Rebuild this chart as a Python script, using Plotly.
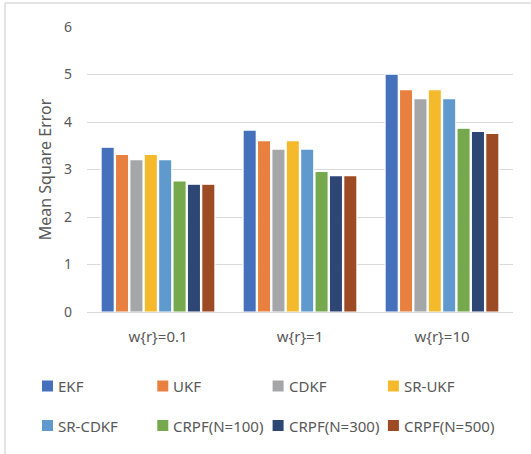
import plotly.graph_objects as go

# Noise settings and filter results (mean square error)
groups = ["w{r}=0.1", "w{r}=1", "w{r}=10"]
series_names = ["EKF", "UKF", "CDKF", "SR-UKF", "SR-CDKF",
                "CRPF(N=100)", "CRPF(N=300)", "CRPF(N=500)"]
ekf = [3.47, 3.83, 5.01]
ukf = [3.32, 3.61, 4.68]
cdkf = [3.21, 3.43, 4.49]
sr_ukf = [3.32, 3.61, 4.68]
sr_cdkf = [3.21, 3.43, 4.49]
crpf_100 = [2.76, 2.96, 3.87]
crpf_300 = [2.69, 2.87, 3.80]
crpf_500 = [2.69, 2.87, 3.76]
y_ticks = [0, 1, 2, 3, 4, 5, 6]

series_values = [ekf, ukf, cdkf, sr_ukf, sr_cdkf, crpf_100, crpf_300, crpf_500]
colors = ["#4570BC", "#E88040", "#A5A6A8", "#F4BA2C",
          "#5F99CE", "#76A84E", "#2E4674", "#9C4B25"]

W, H = 531, 454
L, R, T, B = 87, 18, 27, 142
PW, PH = W - L - R, H - T - B
TEXT = "#595959"
GRID = "#D9D9D9"
FONT = "Noto Sans"


def px(x):
    return (x - L) / PW


def py(y):
    return (H - B - y) / PH


fig = go.Figure()
for name, vals, col in zip(series_names, series_values, colors):
    fig.add_trace(go.Bar(
        x=groups, y=vals, name=name,
        marker=dict(color=col, line=dict(color="white", width=1.2)),
        showlegend=False,
    ))

shapes = []
annotations = []

# outer frame (top and left edges)
shapes.append(dict(type="line", xref="paper", yref="paper",
                   x0=px(5), x1=px(W + 2), y0=py(3), y1=py(3),
                   line=dict(color="#DADADA", width=1.5)))
shapes.append(dict(type="line", xref="paper", yref="paper",
                   x0=px(5), x1=px(5), y0=py(3), y1=py(H + 2),
                   line=dict(color="#DADADA", width=1.5)))

# legend: two rows of four entries
for i, (name, col) in enumerate(zip(series_names, colors)):
    row, c = divmod(i, 4)
    x0 = 42 + c * 115.3
    yc = 386 + row * 39.5
    shapes.append(dict(type="rect", xref="paper", yref="paper",
                       x0=px(x0), x1=px(x0 + 11),
                       y0=py(yc - 5.5), y1=py(yc + 5.5),
                       fillcolor=col, line=dict(width=0)))
    annotations.append(dict(xref="paper", yref="paper",
                            x=px(x0 + 14), y=py(yc),
                            xanchor="left", yanchor="middle",
                            text=name, showarrow=False,
                            font=dict(family=FONT, size=15, color=TEXT)))

fig.update_layout(
    width=W, height=H,
    margin=dict(l=L, r=R, t=T, b=B),
    paper_bgcolor="white", plot_bgcolor="white",
    barmode="group", bargap=0.19, bargroupgap=0.08,
    font=dict(family=FONT, color=TEXT),
    shapes=shapes, annotations=annotations,
    xaxis=dict(
        showgrid=False, showline=False, zeroline=False,
        tickfont=dict(size=15, color=TEXT),
        ticklabelstandoff=14,
    ),
    yaxis=dict(
        range=[0, 6], tickvals=y_ticks,
        showgrid=True, gridcolor=GRID, gridwidth=1,
        zeroline=True, zerolinecolor=GRID, zerolinewidth=1,
        showline=False,
        tickfont=dict(size=14, color=TEXT),
        ticklabelstandoff=14,
        title=dict(text="Mean Square Error", standoff=8,
                   font=dict(size=16, color=TEXT)),
    ),
)

fig.write_html("out.html")
